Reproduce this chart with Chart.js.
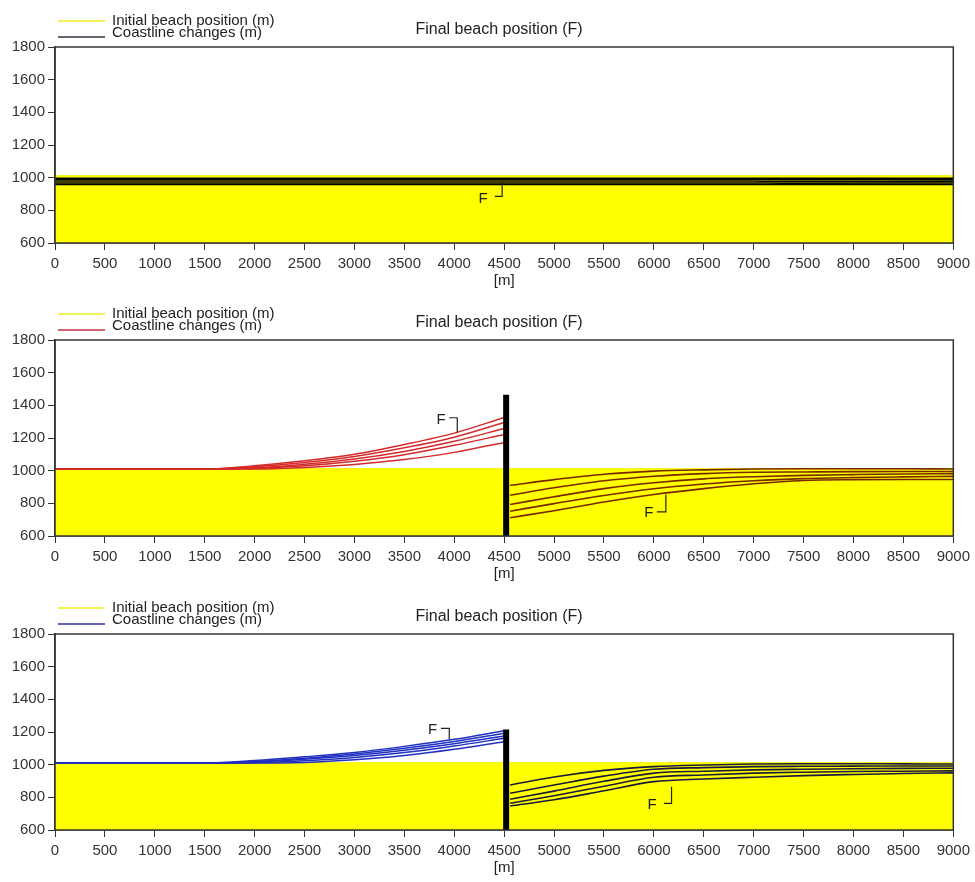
<!DOCTYPE html>
<html>
<head>
<title>Final beach position</title>
<script src="https://cdn.jsdelivr.net/npm/chart.js"></script>
<style>
  body { margin: 0; background: #fff; width: 975px; height: 882px; position: relative; overflow: hidden; }
  canvas { position: absolute; left: 0; }
</style>
</head>
<body>
<canvas id="c1" width="975" height="294" style="top:0px"></canvas>
<canvas id="c2" width="975" height="294" style="top:293px"></canvas>
<canvas id="c3" width="975" height="294" style="top:587px"></canvas>
<script>
// initial beach
const initialX = [0, 9000];
const initialY = [1012, 1012];

// top chart: no groin
const flatX = [0, 7000, 7300, 9000];
const flatLines = [
  [997, 997, 997, 997],
  [990, 990, 988, 988],
  [979, 979, 976, 978],
  [968, 968, 966, 968],
  [958, 958, 958, 958]
];

// groin cases
const leftX = [0, 1500, 2000, 2500, 3000, 3500, 4000, 4500];
const rightX = [4560, 5000, 5500, 6000, 6500, 7000, 7500, 8000, 8500, 9000];

const redLeft = [
  [1010, 1010, 1030, 1060, 1100, 1160, 1230, 1325],
  [1010, 1010, 1024, 1050, 1087, 1140, 1205, 1295],
  [1010, 1010, 1018, 1040, 1072, 1118, 1180, 1258],
  [1010, 1010, 1014, 1030, 1058, 1098, 1155, 1222],
  [1010, 1010, 1010, 1020, 1038, 1068, 1112, 1173]
];
const redRight = [
  [910, 945, 978, 997, 1005, 1010, 1012, 1012, 1012, 1010],
  [850, 895, 938, 966, 982, 990, 992, 994, 995, 995],
  [793, 840, 890, 926, 950, 963, 971, 976, 980, 982],
  [752, 798, 848, 889, 918, 938, 951, 958, 962, 965],
  [712, 755, 808, 854, 890, 920, 940, 945, 946, 946]
];

const blueLeft = [
  [1010, 1010, 1025, 1048, 1075, 1112, 1155, 1208],
  [1010, 1010, 1020, 1040, 1066, 1100, 1142, 1192],
  [1010, 1010, 1016, 1033, 1056, 1088, 1128, 1176],
  [1010, 1010, 1012, 1024, 1044, 1074, 1114, 1162],
  [1010, 1010, 1010, 1014, 1030, 1056, 1094, 1141]
];
const blueRight = [
  [876, 925, 965, 988, 998, 1004, 1006, 1006, 1005, 1004],
  [825, 875, 930, 972, 982, 988, 990, 991, 992, 992],
  [788, 838, 898, 948, 960, 968, 972, 975, 977, 978],
  [764, 810, 868, 923, 937, 948, 954, 958, 960, 962],
  [747, 785, 840, 896, 912, 923, 933, 940, 946, 950]
];

const groinX = [4520, 4520];
const groinY2 = [600, 1465];
const groinY3 = [600, 1215];

// "F" labels: text position, then bracket path
const fMarks1 = [{ at: [4290, 869], path: [[4406, 886], [4480, 886], [4480, 975]] }];
const fMarks2 = [
  { at: [3867, 1313], path: [[3950, 1324], [4030, 1324], [4030, 1234]] },
  { at: [5950, 742], path: [[6030, 748], [6120, 748], [6120, 854]] }
];
const fMarks3 = [
  { at: [3783, 1212], path: [[3867, 1222], [3950, 1222], [3950, 1155]] },
  { at: [5983, 753], path: [[6100, 763], [6177, 763], [6177, 865]] }
];

const FONT = '"Liberation Sans", Arial, sans-serif';
const pts = (xs, ys) => xs.map((x, i) => ({ x: x, y: ys[i] }));

function lineSet(xs, ys, color, w) {
  return {
    data: pts(xs, ys), borderColor: color, borderWidth: w || 1.5,
    pointRadius: 0, cubicInterpolationMode: 'monotone', fill: false, order: 1
  };
}

function initialSet() {
  return {
    data: pts(initialX, initialY), borderColor: '#f2f200', borderWidth: 1,
    backgroundColor: '#ffff00', fill: 'start', pointRadius: 0, order: 10
  };
}

function groinSet(ys) {
  return { data: pts(groinX, ys), borderColor: '#000', borderWidth: 6, pointRadius: 0, borderCapStyle: 'butt', order: 0 };
}

function decor(legendColor, marks) {
  return {
    id: 'decor',
    afterDatasetsDraw(chart) {
      const { ctx, chartArea: a, scales: { x, y } } = chart;
      ctx.save();
      ctx.strokeStyle = '#333';
      ctx.lineWidth = 1.5;
      ctx.strokeRect(a.left, a.top, a.right - a.left, a.bottom - a.top);
      ctx.fillStyle = '#222';
      ctx.font = '15px ' + FONT;
      ctx.textAlign = 'center';
      ctx.textBaseline = 'middle';
      ctx.lineWidth = 1.2;
      ctx.strokeStyle = '#222';
      marks.forEach(m => {
        ctx.fillText('F', x.getPixelForValue(m.at[0]), y.getPixelForValue(m.at[1]));
        ctx.beginPath();
        m.path.forEach((p, i) => {
          const px = x.getPixelForValue(p[0]), py = y.getPixelForValue(p[1]);
          if (i === 0) ctx.moveTo(px, py); else ctx.lineTo(px, py);
        });
        ctx.stroke();
      });
      ctx.restore();
    },
    afterDraw(chart) {
      const { ctx, chartArea: a, scales: { x } } = chart;
      ctx.save();
      // legend
      ctx.lineWidth = 1.5;
      ctx.strokeStyle = '#eeee20';
      ctx.beginPath(); ctx.moveTo(58, 21); ctx.lineTo(105, 21); ctx.stroke();
      ctx.strokeStyle = legendColor;
      ctx.beginPath(); ctx.moveTo(58, 37); ctx.lineTo(105, 37); ctx.stroke();
      ctx.fillStyle = '#222';
      ctx.font = '15px ' + FONT;
      ctx.textAlign = 'left';
      ctx.textBaseline = 'alphabetic';
      ctx.fillText('Initial beach position (m)', 112, 25);
      ctx.fillText('Coastline changes (m)', 112, 37);
      // title
      ctx.font = '16px ' + FONT;
      ctx.textAlign = 'center';
      ctx.textBaseline = 'middle';
      ctx.fillText('Final beach position (F)', 499, 30);
      // axis unit
      ctx.font = '15px ' + FONT;
      ctx.fillText('[m]', x.getPixelForValue(4500), a.bottom + 38);
      ctx.restore();
    }
  };
}

function build(id, datasets, legendColor, marks) {
  new Chart(document.getElementById(id), {
    type: 'line',
    data: { datasets: datasets },
    options: {
      responsive: false,
      animation: false,
      layout: { padding: { top: 47, right: 20, left: 0, bottom: 0 } },
      plugins: { legend: { display: false }, title: { display: false }, tooltip: { enabled: false } },
      scales: {
        x: {
          type: 'linear', min: 0, max: 9000,
          ticks: { stepSize: 500, autoSkip: false, maxRotation: 0, padding: 5, color: '#333', font: { size: 15, family: FONT }, callback: v => String(v) },
          grid: { drawOnChartArea: false, tickLength: 7, color: '#333' },
          border: { color: '#333', width: 1.5 },
          afterFit: s => { s.height = 51; }
        },
        y: {
          min: 600, max: 1800,
          ticks: { stepSize: 200, autoSkip: false, padding: 3, color: '#333', font: { size: 15, family: FONT }, callback: v => String(v) },
          grid: { drawOnChartArea: false, tickLength: 7, color: '#333' },
          border: { color: '#333', width: 1.5 },
          afterFit: s => { s.width = 55; }
        }
      }
    },
    plugins: [decor(legendColor, marks)]
  });
}

// chart 1
build('c1', [initialSet()].concat(flatLines.map(l => lineSet(flatX, l, '#000'))), '#333344', fMarks1);

// chart 2
build('c2', [initialSet(), groinSet(groinY2)]
  .concat(redLeft.map(l => lineSet(leftX, l, '#d42a2a')))
  .concat(redRight.map(l => lineSet(rightX, l, '#7a2800', 1.6))), '#c03040', fMarks2);

// chart 3
build('c3', [initialSet(), groinSet(groinY3)]
  .concat(blueLeft.map(l => lineSet(leftX, l, '#2030c0')))
  .concat(blueRight.map(l => lineSet(rightX, l, '#1a1a40', 1.6))), '#3030a0', fMarks3);
</script>
</body>
</html>
